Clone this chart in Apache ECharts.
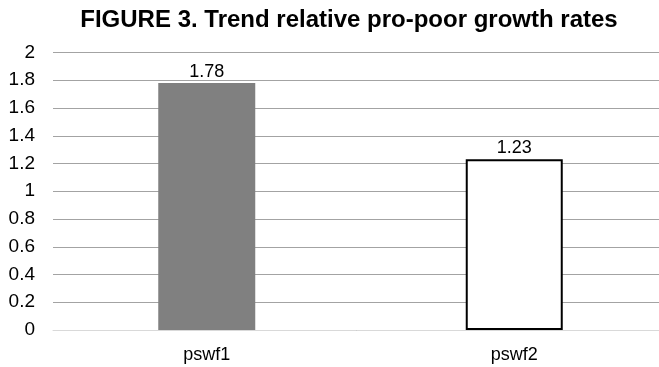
<!DOCTYPE html>
<html>
<head>
<meta charset="utf-8">
<script src="https://cdn.jsdelivr.net/npm/echarts@6/dist/echarts.min.js"></script>
<style>
  html, body { margin: 0; padding: 0; background: #fff; }
  #chart { width: 659px; height: 367px; }
</style>
</head>
<body>
<div id="chart"></div>
<script>
// Pro-poor growth rate measures
const categories = ['pswf1', 'pswf2'];
const values = [1.78, 1.23];
const titleText = 'FIGURE 3. Trend relative pro-poor growth rates';

const barStyles = [
  { color: '#808080', borderColor: '#808080', borderWidth: 0 },
  { color: '#ffffff', borderColor: '#000000', borderWidth: 2 }
];

const chart = echarts.init(document.getElementById('chart'));
chart.setOption({
  animation: false,
  title: {
    text: titleText,
    left: 344,
    textAlign: 'center',
    top: 3,
    textStyle: { fontFamily: 'Liberation Sans', fontSize: 24, fontWeight: 'bold', color: '#000' }
  },
  // plot area runs past the right edge of the canvas
  grid: { left: 53, top: 52.5, width: 615, height: 277.5, outerBoundsMode: 'none', containLabel: false },
  xAxis: {
    type: 'category',
    data: categories,
    axisLine: { show: true, lineStyle: { color: '#d9d9d9', width: 1 } },
    axisTick: { show: false },
    axisLabel: { fontFamily: 'Liberation Sans', fontSize: 18, color: '#000', margin: 16 }
  },
  yAxis: {
    type: 'value',
    min: 0,
    max: 2,
    interval: 0.2,
    axisLine: { show: false },
    axisTick: { show: false },
    splitLine: { lineStyle: { color: '#a3a3a3', width: 1.2 } },
    axisLabel: {
      fontFamily: 'Liberation Sans', fontSize: 19, color: '#000', margin: 18,
      formatter: v => String(Math.round(v * 10) / 10)
    }
  },
  series: [{
    type: 'bar',
    barWidth: 97,
    data: values.map((v, i) => ({ value: v, itemStyle: barStyles[i] })),
    label: {
      show: true,
      position: 'top',
      distance: 2,
      fontFamily: 'Liberation Sans', fontSize: 18, color: '#000'
    }
  }]
});
</script>
</body>
</html>
